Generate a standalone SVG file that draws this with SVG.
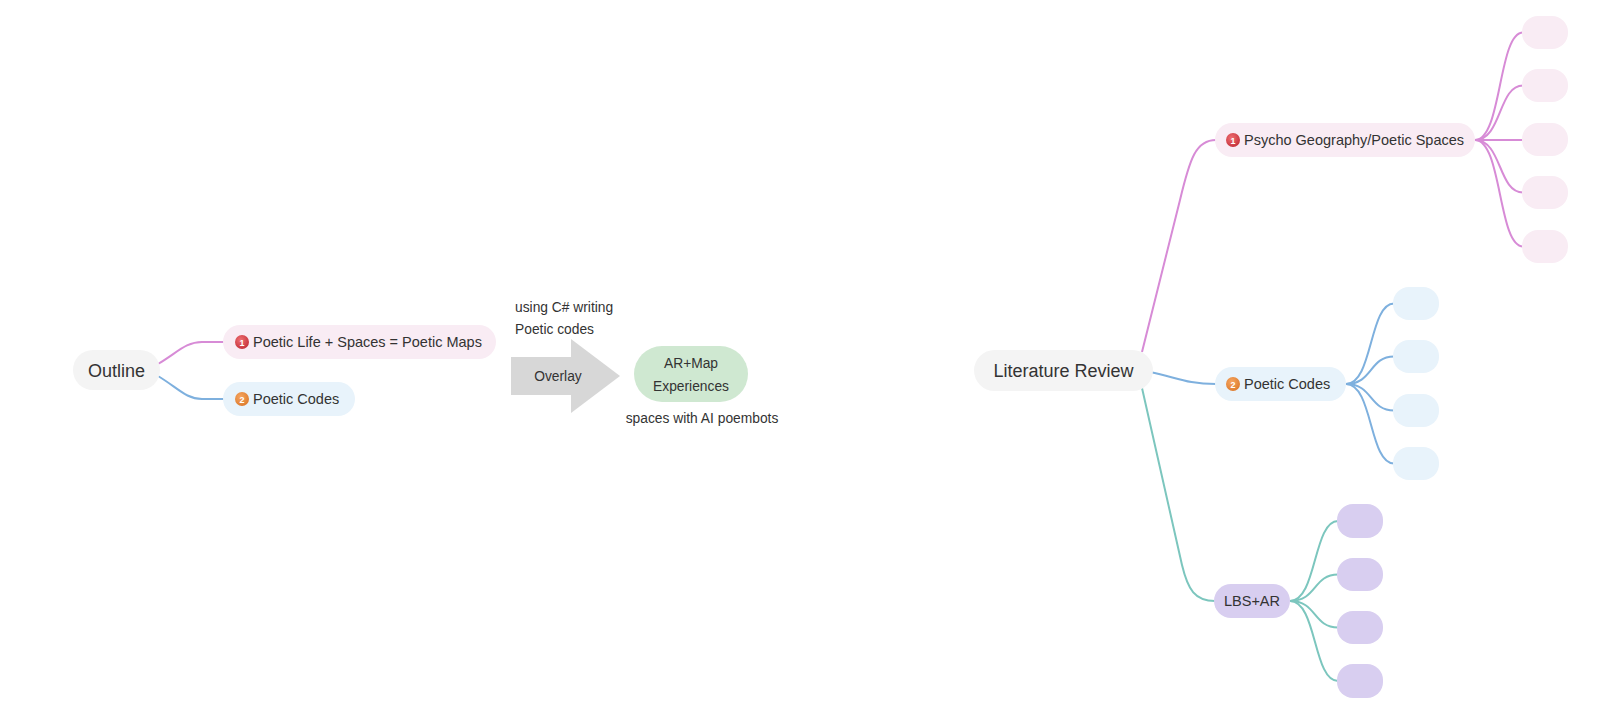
<svg xmlns="http://www.w3.org/2000/svg" width="1604" height="726" viewBox="0 0 1604 726">
  <defs>
    <radialGradient id="gRed" cx="40%" cy="35%" r="70%">
      <stop offset="0" stop-color="#ef6f72"/>
      <stop offset="1" stop-color="#c4303a"/>
    </radialGradient>
    <radialGradient id="gOrange" cx="40%" cy="35%" r="70%">
      <stop offset="0" stop-color="#f6a661"/>
      <stop offset="1" stop-color="#dd7a2c"/>
    </radialGradient>
  </defs>
  <style>
    text { font-family: "Liberation Sans", Arial, sans-serif; fill: #333333; }
    .root { fill: #f4f4f4; }
    .pink { fill: #f9ecf4; }
    .blue { fill: #e8f3fb; }
    .purple { fill: #d8cef0; }
    .green { fill: #cfe8d1; }
    .lbl { font-size: 14.5px; }
    .big { font-size: 18px; }
    .small { font-size: 13.8px; }
    .badge { font-size: 9px; font-weight: bold; fill: #ffffff; text-anchor: middle; }
    .cp { fill: none; stroke: #d78bd6; stroke-width: 2; }
    .cb { fill: none; stroke: #7eb0de; stroke-width: 2; }
    .ct { fill: none; stroke: #7cc6be; stroke-width: 2; }
  </style>
  <rect width="1604" height="726" fill="#ffffff"/>

  <g id="connectors">
    <path class="cp" d="M158,364 C178,352 186,342 202,342 L224,342"/>
    <path class="cb" d="M158,376 C178,388 186,399 202,399 L224,399"/>
    <path class="cp" d="M1142,352 L1180,200 C1190,158 1196,140 1216,140"/>
    <path class="cb" d="M1150,372 C1176,377 1186,384 1216,384"/>
    <path class="ct" d="M1142,388 L1182,565 C1188,590 1195,601 1215,601"/>
    <path class="cp" d="M1475,140 C1502,140 1498,32.5 1523,32.5"/>
    <path class="cp" d="M1475,140 C1502,140 1498,85.5 1523,85.5"/>
    <path class="cp" d="M1475,140 L1523,140"/>
    <path class="cp" d="M1475,140 C1502,140 1498,192.5 1523,192.5"/>
    <path class="cp" d="M1475,140 C1502,140 1498,246.5 1523,246.5"/>
    <path class="cb" d="M1346,384 C1373,384 1369,303.5 1394,303.5"/>
    <path class="cb" d="M1346,384 C1373,384 1369,356.5 1394,356.5"/>
    <path class="cb" d="M1346,384 C1373,384 1369,410.5 1394,410.5"/>
    <path class="cb" d="M1346,384 C1373,384 1369,463.5 1394,463.5"/>
    <path class="ct" d="M1290,601 C1317,601 1313,521 1338,521"/>
    <path class="ct" d="M1290,601 C1317,601 1313,574.5 1338,574.5"/>
    <path class="ct" d="M1290,601 C1317,601 1313,627.5 1338,627.5"/>
    <path class="ct" d="M1290,601 C1317,601 1313,681 1338,681"/>
  </g>

  <g id="outline">
    <rect class="root" x="73" y="350" width="87" height="40" rx="20"/>
    <text class="big" x="116.5" y="377" text-anchor="middle">Outline</text>
  </g>
  <g id="poetic-life">
    <rect class="pink" x="223" y="325" width="273" height="34" rx="17"/>
    <circle cx="242" cy="342" r="7" fill="url(#gRed)"/>
    <text class="badge" x="242" y="345.5">1</text>
    <text class="lbl" x="253" y="347">Poetic Life + Spaces = Poetic Maps</text>
  </g>
  <g id="poetic-codes-left">
    <rect class="blue" x="223" y="382" width="132" height="34" rx="17"/>
    <circle cx="242" cy="399" r="7" fill="url(#gOrange)"/>
    <text class="badge" x="242" y="402.5">2</text>
    <text class="lbl" x="253" y="404">Poetic Codes</text>
  </g>

  <g id="annotation">
    <text class="small" x="515" y="312">using C# writing</text>
    <text class="small" x="515" y="334">Poetic codes</text>
  </g>
  <g id="overlay-arrow">
    <polygon points="511,357 571,357 571,339 620,376 571,413 571,395 511,395" fill="#d7d7d7"/>
    <text class="small" x="558" y="381" text-anchor="middle">Overlay</text>
  </g>
  <g id="ar-map">
    <rect class="green" x="634" y="346" width="114" height="56" rx="28"/>
    <text class="small" x="691" y="368" text-anchor="middle">AR+Map</text>
    <text class="small" x="691" y="391" text-anchor="middle">Experiences</text>
  </g>
  <g id="spaces-note">
    <text class="small" x="702" y="423" text-anchor="middle">spaces with AI poembots</text>
  </g>

  <g id="literature-review">
    <rect class="root" x="974" y="350" width="179" height="41" rx="20.5"/>
    <text class="big" x="1063.5" y="377" text-anchor="middle">Literature Review</text>
  </g>
  <g id="psycho">
    <rect class="pink" x="1215" y="123" width="260" height="34" rx="17"/>
    <circle cx="1233" cy="140" r="7" fill="url(#gRed)"/>
    <text class="badge" x="1233" y="143.5">1</text>
    <text class="lbl" x="1244" y="145">Psycho Geography/Poetic Spaces</text>
  </g>
  <g id="poetic-codes-right">
    <rect class="blue" x="1215" y="367" width="131" height="34" rx="17"/>
    <circle cx="1233" cy="384" r="7" fill="url(#gOrange)"/>
    <text class="badge" x="1233" y="387.5">2</text>
    <text class="lbl" x="1244" y="389">Poetic Codes</text>
  </g>
  <g id="lbs-ar">
    <rect class="purple" x="1214" y="584" width="76" height="34" rx="17"/>
    <text class="lbl" x="1252" y="606" text-anchor="middle">LBS+AR</text>
  </g>

  <g id="psycho-children">
    <rect class="pink" x="1522" y="16" width="46" height="33" rx="16"/>
    <rect class="pink" x="1522" y="69" width="46" height="33" rx="16"/>
    <rect class="pink" x="1522" y="123" width="46" height="33" rx="16"/>
    <rect class="pink" x="1522" y="176" width="46" height="33" rx="16"/>
    <rect class="pink" x="1522" y="230" width="46" height="33" rx="16"/>
  </g>
  <g id="codes-children">
    <rect class="blue" x="1393" y="287" width="46" height="33" rx="16"/>
    <rect class="blue" x="1393" y="340" width="46" height="33" rx="16"/>
    <rect class="blue" x="1393" y="394" width="46" height="33" rx="16"/>
    <rect class="blue" x="1393" y="447" width="46" height="33" rx="16"/>
  </g>
  <g id="lbs-children">
    <rect class="purple" x="1337" y="504" width="46" height="34" rx="16"/>
    <rect class="purple" x="1337" y="558" width="46" height="33" rx="16"/>
    <rect class="purple" x="1337" y="611" width="46" height="33" rx="16"/>
    <rect class="purple" x="1337" y="664" width="46" height="34" rx="16"/>
  </g>
</svg>
